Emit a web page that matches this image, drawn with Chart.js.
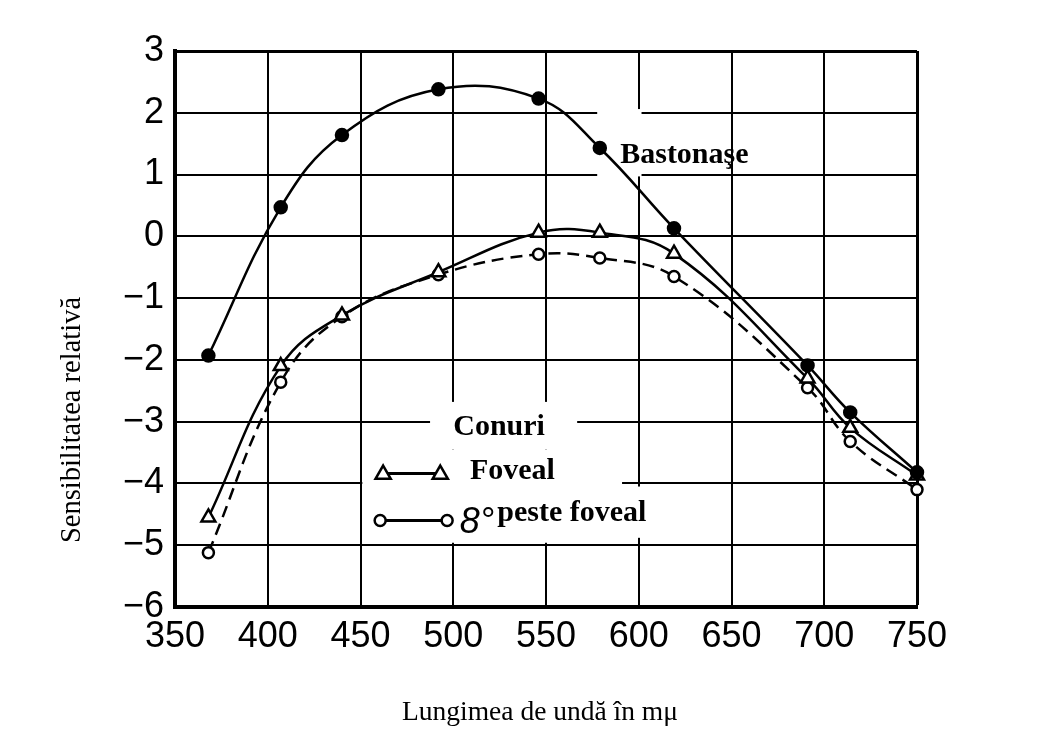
<!DOCTYPE html>
<html><head><meta charset="utf-8">
<script src="https://cdn.jsdelivr.net/npm/chart.js@4.4.1/dist/chart.umd.min.js"></script>
<style>html,body{margin:0;padding:0;background:#fff}</style>
</head><body>
<canvas id="c" width="1045" height="739"></canvas>
<script>
// ---- data ----
const wavelengths   = [368, 407, 440, 492, 546, 579, 619, 691, 714, 750];
const bastonase     = [-1.93, 0.47, 1.64, 2.38, 2.23, 1.43, 0.13, -2.09, -2.85, -3.82];
const conuriFoveal  = [-4.55, -2.10, -1.28, -0.58, 0.06, 0.06, -0.28, -2.30, -3.10, -3.87];
const conuri8       = [-5.12, -2.36, -1.30, -0.62, -0.29, -0.35, -0.65, -2.45, -3.32, -4.10];
const xTickValues   = [350, 400, 450, 500, 550, 600, 650, 700, 750];
const yTickValues   = [3, 2, 1, 0, -1, -2, -3, -4, -5, -6];
const yTickLabels   = ['3', '2', '1', '0', '−1', '−2', '−3', '−4', '−5', '−6'];
const xTitle = 'Lungimea de undă în mμ';
const yTitle = 'Sensibilitatea relativă';

const toPts = ys => wavelengths.map((x, i) => ({x, y: ys[i]}));

// white patches present in the reference (in data units)
const masks = [
  {x0: 487.5, x1: 566.8, y0: -2.68, y1: -3.45},
  {x0: 451,   x1: 591,   y0: -3.45, y1: -4.96},
  {x0: 596,   x1: 604,   y0: -4.05, y1: -4.88},
  {x0: 577.6, x1: 601.5, y0: 0.97,  y1: 2.06}
];

const maskPlugin = {
  id: 'masks',
  beforeDatasetsDraw(chart) {
    const {ctx, scales: {x, y}} = chart;
    ctx.save();
    ctx.fillStyle = '#fff';
    masks.forEach(m => {
      const l = x.getPixelForValue(m.x0), r = x.getPixelForValue(m.x1);
      const t = y.getPixelForValue(m.y1), b = y.getPixelForValue(m.y0);
      ctx.fillRect(l, t, r - l, b - t);
    });
    ctx.restore();
  }
};

const labelPlugin = {
  id: 'labels',
  afterDatasetsDraw(chart) {
    const {ctx, scales: {x, y}} = chart;
    const px = v => x.getPixelForValue(v), py = v => y.getPixelForValue(v);
    ctx.save();
    ctx.fillStyle = '#000';
    ctx.strokeStyle = '#000';
    ctx.textBaseline = 'alphabetic';
    ctx.textAlign = 'left';
    ctx.font = 'bold 30px "Liberation Serif"';
    ctx.fillText('Bastonaşe', px(590), py(1.18));
    ctx.fillText('Conuri', px(500), py(-3.22));
    ctx.fillText('Foveal', px(509), py(-3.92));
    ctx.fillText('peste foveal', px(523.7), py(-4.6));
    ctx.font = 'italic 36px "Liberation Sans"';
    ctx.fillText('8°', px(503.5), py(-4.8));

    // legend symbol: triangles
    ctx.lineWidth = 3;
    let yl = py(-3.84), xa = px(462.2), xb = px(493);
    ctx.beginPath(); ctx.moveTo(xa, yl); ctx.lineTo(xb, yl); ctx.stroke();
    [xa, xb].forEach(cx => {
      const r = 8;
      ctx.beginPath();
      ctx.moveTo(cx, yl - r);
      ctx.lineTo(cx + r * 0.95, yl + r * 0.65);
      ctx.lineTo(cx - r * 0.95, yl + r * 0.65);
      ctx.closePath();
      ctx.fillStyle = '#fff'; ctx.fill();
      ctx.lineWidth = 2.5; ctx.stroke();
    });
    // legend symbol: circles
    ctx.lineWidth = 3;
    yl = py(-4.6); xa = px(460.6); xb = px(496.7);
    ctx.beginPath(); ctx.moveTo(xa, yl); ctx.lineTo(xb, yl); ctx.stroke();
    [xa, xb].forEach(cx => {
      ctx.beginPath(); ctx.arc(cx, yl, 5.5, 0, Math.PI * 2);
      ctx.fillStyle = '#fff'; ctx.fill();
      ctx.lineWidth = 2.5; ctx.stroke();
    });

    // axis titles
    ctx.fillStyle = '#000';
    ctx.font = '27.5px "Liberation Serif"';
    ctx.textAlign = 'center';
    ctx.fillText(xTitle, 540, 720);
    ctx.font = '28.5px "Liberation Serif"';
    ctx.translate(80, 420);
    ctx.rotate(-Math.PI / 2);
    ctx.fillText(yTitle, 0, 0);
    ctx.restore();
  }
};

new Chart(document.getElementById('c'), {
  type: 'line',
  data: {
    datasets: [
      {label: 'Bastonaşe', data: toPts(bastonase), borderColor: '#000', borderWidth: 2.5,
       tension: 0.4, pointStyle: 'circle', pointRadius: 6, pointBackgroundColor: '#000',
       pointBorderColor: '#000', clip: false},
      {label: 'Foveal', data: toPts(conuriFoveal), borderColor: '#000', borderWidth: 2.5,
       tension: 0.4, pointStyle: 'triangle', pointRadius: 8, pointBackgroundColor: '#fff',
       pointBorderColor: '#000', pointBorderWidth: 2.5, clip: false},
      {label: '8° peste foveal', data: toPts(conuri8), borderColor: '#000', borderWidth: 2.5,
       borderDash: [12, 7], tension: 0.4, pointStyle: 'circle', pointRadius: 5.5,
       pointBackgroundColor: '#fff', pointBorderColor: '#000', pointBorderWidth: 2.5, clip: false}
    ]
  },
  options: {
    responsive: false,
    animation: false,
    devicePixelRatio: 1,
    layout: {padding: {left: 0, top: 51, right: 128, bottom: 0}},
    plugins: {legend: {display: false}, tooltip: {enabled: false}},
    scales: {
      x: {
        type: 'linear', min: 350, max: 750,
        afterBuildTicks: s => { s.ticks = xTickValues.map(v => ({value: v})); },
        afterFit: s => { s.height = 132; },
        ticks: {color: '#000', font: {family: '"Liberation Sans"', size: 36}, padding: 8,
                callback: v => String(v), maxRotation: 0, autoSkip: false},
        grid: {color: '#000', lineWidth: c => (c.tick && c.tick.value === 750 ? 3 : 2), drawTicks: false},
        border: {display: true, color: '#000', width: 4}
      },
      y: {
        min: -6, max: 3,
        afterBuildTicks: s => { s.ticks = yTickValues.map(v => ({value: v})); },
        afterFit: s => { s.width = 175; },
        ticks: {color: '#000', font: {family: '"Liberation Sans"', size: 36}, padding: 11,
                callback: v => yTickLabels[yTickValues.indexOf(v)], autoSkip: false},
        grid: {color: '#000', lineWidth: c => (c.tick && c.tick.value === 3 ? 3 : 2), drawTicks: false},
        border: {display: true, color: '#000', width: 4}
      }
    }
  },
  plugins: [maskPlugin, labelPlugin]
});
</script>
</body></html>
